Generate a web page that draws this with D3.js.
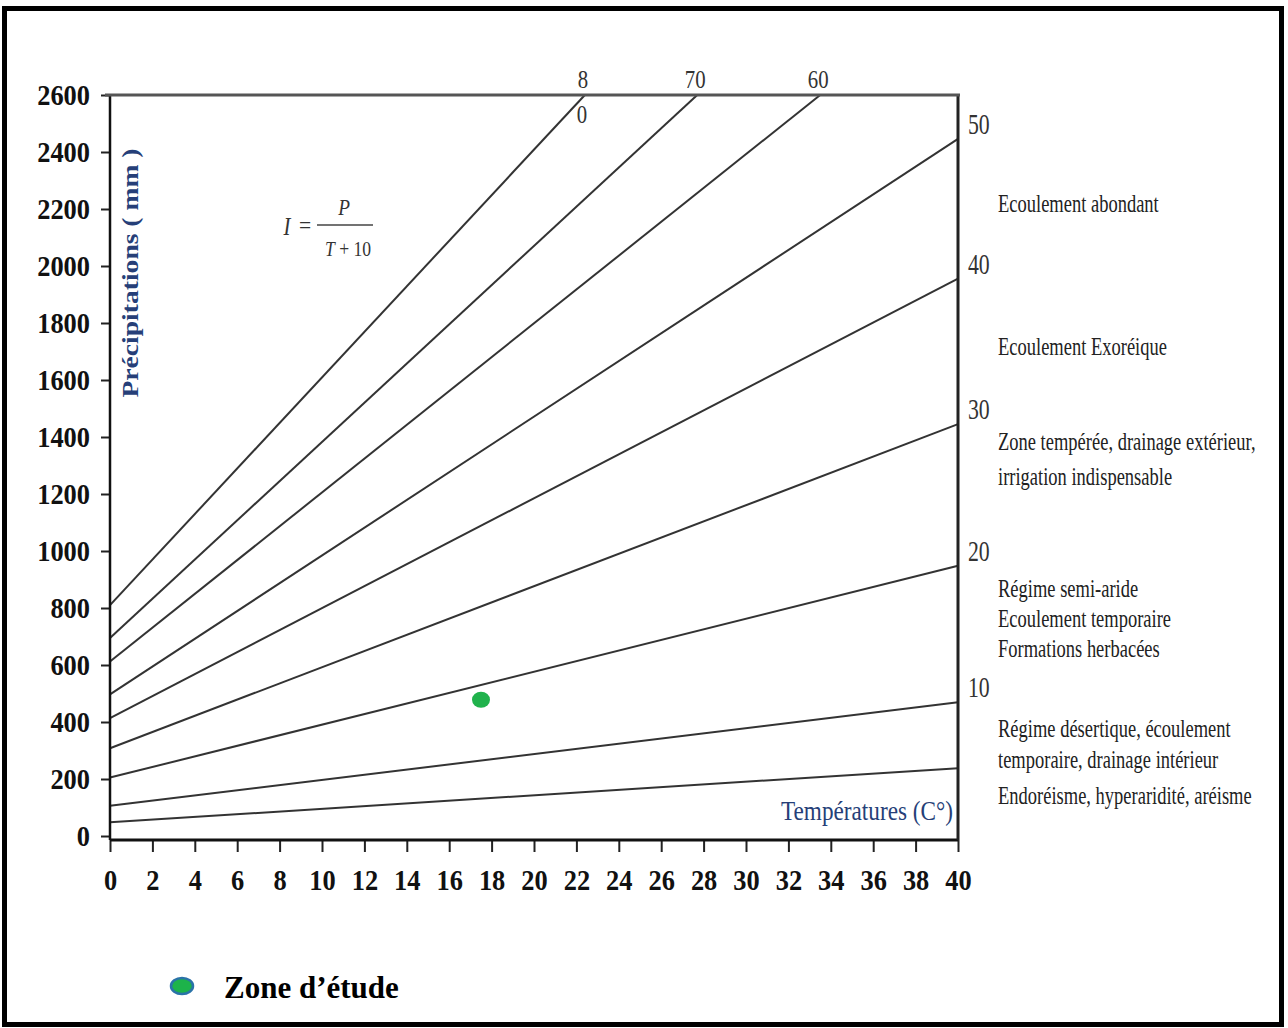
<!DOCTYPE html>
<html>
<head>
<meta charset="utf-8">
<script src="https://cdn.jsdelivr.net/npm/d3@7"></script>
<style>
  body { margin: 0; background: #fff; }
  text { font-family: "Liberation Serif", "Times New Roman", serif; }
</style>
</head>
<body>
<svg id="chart"></svg>
<script>
// Abaque de De Martonne : I = P / (T + 10)
const indices = [5, 10, 20, 30, 40, 50, 60, 70, 80];
// precipitation read where each line leaves the axis T = 0
const pAtZero = [48, 106, 205, 308, 414, 497, 612, 695, 810];
// last point of each line (right border or top border)
const endT = [40, 40, 40, 40, 40, 40, 33.5, 27.7, 22.4];
const endP = [238, 469, 948, 1445, 1956, 2446, 2600, 2600, 2600];

const xTicks = [0, 2, 4, 6, 8, 10, 12, 14, 16, 18, 20, 22, 24, 26, 28, 30, 32, 34, 36, 38, 40];
const yTicks = [0, 200, 400, 600, 800, 1000, 1200, 1400, 1600, 1800, 2000, 2200, 2400, 2600];

// labels written on the right side, for the lines that end on it
const rightLabels = [50, 40, 30, 20, 10];
const regimes = [
  ["Ecoulement abondant"],
  ["Ecoulement Exoréique"],
  ["Zone tempérée, drainage extérieur,", "irrigation indispensable"],
  ["Régime semi-aride", "Ecoulement temporaire", "Formations herbacées"],
  ["Régime désertique, écoulement", "temporaire, drainage intérieur", "Endoréisme, hyperaridité, aréisme"]
];

// study zone
const zoneT = [17.5];
const zoneP = [478];

const width = 1288, height = 1028;
const svg = d3.select("#chart").attr("width", width).attr("height", height);

svg.append("rect").attr("width", width).attr("height", height).attr("fill", "#fff");
// outer frame
svg.append("rect")
  .attr("x", 4.5).attr("y", 8.5)
  .attr("width", 1277).attr("height", 1016)
  .attr("fill", "none").attr("stroke", "#000").attr("stroke-width", 5);

const x = d3.scaleLinear().domain([0, 40]).range([110, 958]);
const y = d3.scaleLinear().domain([-14, 2600]).range([840, 95]);

// small helper: text squeezed horizontally like the scanned figure
function label(g, px, py, s, o) {
  o = o || {};
  return g.append("text")
    .attr("transform", "translate(" + px + "," + py + ") scale(" + (o.sx || 1) + ",1)")
    .attr("text-anchor", o.anchor || "start")
    .style("font-size", (o.size || 20) + "px")
    .style("font-weight", o.weight || "normal")
    .style("font-style", o.italic ? "italic" : "normal")
    .attr("fill", o.color || "#222")
    .text(s);
}

// iso-index lines
const lineGen = d3.line().x(d => x(d[0])).y(d => y(d[1]));
const isoData = indices.map((v, i) => [[0, pAtZero[i]], [endT[i], endP[i]]]);
svg.append("g").selectAll("path")
  .data(isoData)
  .enter().append("path")
  .attr("d", lineGen)
  .attr("fill", "none")
  .attr("stroke", "#333")
  .attr("stroke-width", 2);

// axes
const yAxis = svg.append("g")
  .attr("transform", "translate(" + x(0) + ",0)")
  .call(d3.axisLeft(y).tickValues(yTicks).tickFormat(d3.format("d")).tickSize(9).tickSizeOuter(0));
yAxis.select(".domain").remove();
yAxis.selectAll(".tick line").attr("stroke", "#222").attr("stroke-width", 2);
yAxis.selectAll(".tick text")
  .attr("x", -20 / 0.88).attr("dy", "0.3em")
  .attr("transform", "scale(0.88,1)")
  .attr("fill", "#111")
  .style("font-size", "30px").style("font-weight", "bold")
  .style("font-family", "'Liberation Serif', serif");

const xAxis = svg.append("g")
  .attr("transform", "translate(0," + y(-14) + ")")
  .call(d3.axisBottom(x).tickValues(xTicks).tickFormat(d3.format("d")).tickSize(12).tickSizeOuter(0));
xAxis.select(".domain").remove();
xAxis.selectAll(".tick line").attr("stroke", "#222").attr("stroke-width", 2);
xAxis.selectAll(".tick text")
  .attr("y", 50).attr("dy", 0).attr("x", 0)
  .attr("transform", "scale(0.88,1)")
  .attr("fill", "#111")
  .style("font-size", "30px").style("font-weight", "bold")
  .style("font-family", "'Liberation Serif', serif");

// frame of the plot
const frame = svg.append("g").attr("fill", "none");
frame.append("line").attr("x1", x(0)).attr("x2", x(0)).attr("y1", y(2600)).attr("y2", y(-14))
  .attr("stroke", "#111").attr("stroke-width", 2.5);
frame.append("line").attr("x1", x(0)).attr("x2", x(40)).attr("y1", y(-14)).attr("y2", y(-14))
  .attr("stroke", "#111").attr("stroke-width", 3);
frame.append("line").attr("x1", x(40)).attr("x2", x(40)).attr("y1", y(2600)).attr("y2", y(-14))
  .attr("stroke", "#222").attr("stroke-width", 3);
frame.append("line").attr("x1", x(0) - 5).attr("x2", x(40) + 2).attr("y1", y(2600)).attr("y2", y(2600))
  .attr("stroke", "#555").attr("stroke-width", 3);

// index labels at the top ("80" is cut by its line)
indices.forEach((v, i) => {
  if (endP[i] < 2600) return;
  const cx = x(endT[i]);
  if (v === 80) {
    label(svg, cx - 2, y(2600) - 7, "8", { size: 26, sx: 0.8, anchor: "middle", color: "#333" });
    label(svg, cx - 3, y(2600) + 28, "0", { size: 26, sx: 0.8, anchor: "middle", color: "#333" });
  } else {
    label(svg, cx - 2, y(2600) - 7, String(v), { size: 26, sx: 0.8, anchor: "middle", color: "#333" });
  }
});

// index labels on the right side
rightLabels.forEach(v => {
  const i = indices.indexOf(v);
  label(svg, x(40) + 10, y(endP[i]) - 5, String(v), { size: 29, sx: 0.75, color: "#333" });
});

// regime descriptions
const blockTop = [212, 355, 450, 597, 737];
const blockStep = [0, 0, 35, 30, 31];
regimes.forEach((lines, k) => {
  lines.forEach((s, j) => {
    label(svg, 998, blockTop[k] + j * blockStep[k] + (k === 4 && j === 2 ? 5 : 0), s,
      { size: 25, sx: 0.74, color: "#222" });
  });
});

// formula
const fg = svg.append("g");
label(fg, 287, 235, "I", { size: 26, sx: 0.8, italic: true, anchor: "middle", color: "#333" });
label(fg, 305, 233, "=", { size: 24, sx: 0.9, anchor: "middle", color: "#333" });
fg.append("line").attr("x1", 317).attr("x2", 373).attr("y1", 225).attr("y2", 225)
  .attr("stroke", "#444").attr("stroke-width", 1.5);
label(fg, 344, 215, "P", { size: 24, sx: 0.8, italic: true, anchor: "middle", color: "#333" });
label(fg, 348, 256, "", { size: 22, sx: 0.8, anchor: "middle", color: "#333" })
  .html('<tspan font-style="italic">T</tspan> + 10');

// axis titles
label(svg, 953, 820, "Températures (C°)", { size: 27, sx: 0.86, anchor: "end", color: "#263f78" });
svg.append("text")
  .attr("transform", "translate(138,273) rotate(-90) scale(1.2,1)")
  .attr("text-anchor", "middle")
  .style("font-size", "23px").style("font-weight", "bold")
  .attr("fill", "#263f78")
  .text("Précipitations ( mm )");

// study zone point
svg.append("g").selectAll("ellipse")
  .data(zoneT)
  .enter().append("ellipse")
  .attr("cx", d => x(d))
  .attr("cy", (d, i) => y(zoneP[i]))
  .attr("rx", 9).attr("ry", 8)
  .attr("fill", "#20b24c");

// legend
svg.append("ellipse").attr("cx", 182).attr("cy", 986).attr("rx", 11).attr("ry", 8)
  .attr("fill", "#1db34a").attr("stroke", "#2a73a8").attr("stroke-width", 2.5);
label(svg, 224, 998, "Zone d’étude", { size: 31, weight: "bold", color: "#000" });
</script>
</body>
</html>
